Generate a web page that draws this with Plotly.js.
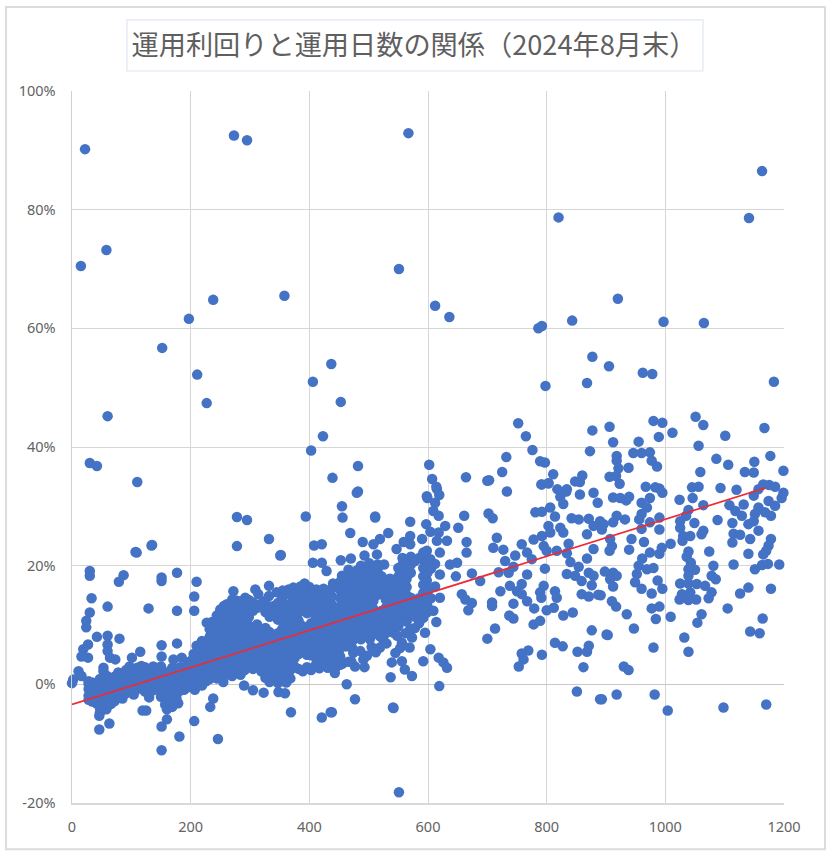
<!DOCTYPE html>
<html><head><meta charset="utf-8">
<script src="https://cdn.plot.ly/plotly-3.0.1.min.js"></script>
<style>html,body{margin:0;padding:0;background:#fff}#c{width:830px;height:857px}</style>
</head><body><div id="c"></div>
<script>
const chartTitle = "運用利回りと運用日数の関係（2024年8月末）";
const xTicks = [0,200,400,600,800,1000,1200];
const yTicks = [-20,0,20,40,60,80,100];
const yTickLabels = ["-20%","0%","20%","40%","60%","80%","100%"];
const trendDays = [0,1169];
const trendYield = [-3.4,33.1];

const outliers = [[22,90.2],[15,70.5],[58,73.2],[60,45.2],[30,37.3],[42,36.8],[110,34.1],[107,22.3],[135,23.5],[152,56.7],[197,61.6],[211,52.2],[227,47.4],[238,64.8],[273,92.5],[295,91.7],[358,65.5],[567,92.9],[551,70],[612,63.8],[636,61.9],[406,51],[437,54],[453,47.6],[423,41.8],[403,39.4],[482,36.8],[439,34.8],[820,78.7],[786,60],[792,60.4],[843,61.3],[798,50.3],[868,50.8],[877,55.2],[905,53.6],[920,65],[997,61.1],[1065,60.9],[1163,86.5],[1141,78.6],[1183,51],[962,52.5],[978,52.3],[551,-18.2],[541,-3.9],[278,28.2],[295,27.7],[278,23.3],[332,24.5],[352,21.8],[394,28.3],[408,23.4],[421,23.6],[482,32.5],[455,30],[511,28.3],[602,37],[607,34.6],[598,31.7],[615,32.9],[664,34.9],[703,34.4],[725,35.8],[732,38.3],[752,44],[765,41.8],[776,39.5],[789,37.6],[797,37.4],[811,35.4],[803,33.9],[791,33.7],[818,32.9],[873,39.3],[877,42.8],[860,35.2],[848,34.2],[833,32.5]];

const rightCloud = [[906,43.4],[912,40.8],[980,44.4],[995,44.1],[989,41.7],[1012,42.4],[955,40.9],[1051,45.1],[1064,43.7],[1056,40.2],[1101,41.9],[1167,43.2],[1177,38.5],[1150,37.5],[1086,38],[1106,37],[1059,35.8],[1134,35.8],[1149,35.7],[1199,36],[946,39],[960,39],[974,39.1],[977,37.7],[986,36.7],[918,38.5],[918,37.7],[921,36.4],[938,36.5],[906,35],[917,35.1],[923,33.8],[912,31.5],[924,31.4],[934,31],[939,31.6],[967,33.3],[983,33.2],[990,33],[995,32.3],[974,31.4],[960,30.6],[969,29.8],[960,28.7],[956,27.8],[990,28.1],[974,27.3],[990,26.1],[960,26.2],[1024,31.1],[1046,31.4],[1045,33.2],[1056,33.3],[1064,30.2],[1039,29.4],[1035,28.4],[1025,27.5],[1025,26.4],[1049,27.2],[1088,27.7],[1093,33.1],[1120,32.8],[1149,31.8],[1157,32.9],[1165,33.7],[1175,33.6],[1185,33.3],[1199,32.3],[1196,31.4],[1174,30.9],[1185,30.1],[1108,30.2],[1132,30.3],[1118,29.2],[1129,28.4],[1157,29.8],[1168,29],[1178,28.4],[1151,28.7],[1149,27.5],[1140,27],[1157,25.9],[1113,27.2],[1115,25.4],[1126,25.2],[1113,23.9],[1143,24.5],[1178,24.5],[1174,23.4],[1170,22.5],[1165,21.9],[1140,22],[1074,22.4],[1064,25.9],[1061,25.3],[1042,25],[1030,25],[1029,24.2],[1009,23.7],[994,23],[990,22],[974,22.2],[961,21.2],[1039,22.4],[1036,21.5],[1043,20.5],[1050,19.3],[1039,19.4],[1039,18.3],[1025,17],[1039,17],[1053,16.9],[1067,16.6],[1078,15.5],[1073,14.5],[1042,15.5],[1028,15.2],[1024,14.3],[1039,14.2],[1052,14.3],[1081,20],[1078,18.3],[1085,17.7],[1115,20.2],[1151,19.4],[1163,20.1],[1173,20.3],[1192,20.2],[1140,16.3],[1126,15.3],[1178,16.1],[1105,12.8],[1164,11.1],[1143,8.9],[1159,8.6],[1061,11.8],[1054,10.4],[1032,7.9],[1039,5.5],[1009,11.4],[984,11],[977,12.8],[990,13.1],[977,15.3],[995,16.1],[987,17.5],[949,17.2],[960,16.1],[955,20],[952,18.6],[969,19.4],[980,19.6],[910,14],[917,13.1],[935,11.8],[947,9.4],[903,8.3],[980,6.2],[930,3],[938,2.4],[893,-2.5],[918,-1.7],[982,-1.7],[1004,-4.4],[1098,-3.9],[1170,-3.4],[898,19],[912,18.8],[918,18.3],[907,17.7],[912,16.5],[891,15],[943,24.5],[939,22.7],[964,24],[906,22.5],[910,23.3],[907,24.5],[932,27.8],[918,28.4],[912,27.3],[896,27],[893,26.1]];

const midCloud = [[614,33.3],[619,31.9],[599,31.4],[612,30.6],[609,29.2],[618,28.4],[629,26.7],[597,27],[604,25.7],[618,25.6],[651,26.4],[661,28.4],[702,28.8],[709,28],[733,32.5],[700,34.3],[792,33.7],[803,33.9],[834,32.9],[856,34.1],[856,32],[879,32.3],[886,30.6],[823,31.6],[828,30.4],[781,29],[792,29.1],[806,29.8],[814,28.3],[842,28],[854,27.8],[871,27.9],[890,27.5],[879,26.7],[803,26.7],[823,26.4],[828,25.6],[806,25.6],[792,25],[778,24.4],[837,23.7],[879,22.8],[868,25.3],[665,24],[665,22.2],[716,24.7],[710,23],[727,22.7],[747,21.7],[758,23.6],[767,22.2],[775,21.1],[795,23.3],[817,22.5],[800,22.5],[834,22.1],[868,21.2],[797,19.5],[730,20.8],[744,19.8],[719,18.9],[736,18.8],[767,18.5],[840,20.6],[854,19.8],[834,18.6],[848,18.3],[871,18.8],[879,18.3],[859,17.4],[876,16.7],[649,20.5],[637,20.2],[674,18.7],[647,18.2],[688,17.4],[722,15.7],[738,16.6],[758,16.9],[750,15.7],[758,15.2],[767,14],[779,12.8],[795,16.6],[789,15.5],[791,14.6],[814,15.7],[817,14.6],[812,12.9],[800,12.5],[828,11.6],[844,12.1],[859,15.2],[871,14.8],[887,15.1],[708,13.8],[708,13.2],[744,13.6],[657,15.2],[663,14.3],[674,13.7],[668,12.5],[737,11.6],[744,11.1],[713,9.4],[700,7.7],[778,10.1],[789,10.7],[876,9.1],[901,8.4],[814,7],[827,6.4],[871,6.5],[852,5.5],[868,5.5],[862,2.9],[792,5],[769,5.7],[758,5.2],[761,4.2],[753,3],[851,-1.2],[890,-2.5],[480,32.3],[456,28.1],[511,28.1],[570,27.4],[469,25.5],[490,24],[533,25.5],[519,24.5],[508,23.6],[590,24.5],[570,25],[559,24],[547,22.8],[570,23.6],[453,20.9],[470,21.2],[493,21.7],[514,21.9],[466,19.3],[526,20.2],[598,22.5],[620,22.2],[632,24.2],[615,24.2],[604,21.1],[595,8.7],[570,9.3],[573,7.9],[556,7],[569,6.2],[545,5.3],[604,5.9],[539,3.7],[556,3.9],[561,2.5],[573,1.4],[537,1.2],[592,3.9],[618,4.5],[626,3.7],[632,2.8],[619,-0.3],[463,0],[477,-2.5],[542,-4],[438,-4.7],[497,4.8],[474,5.3],[477,3],[493,2.9],[519,6.2],[519,8.1],[502,7.6],[542,8.7],[446,3.1],[614,10.5],[598,12.1],[609,12.4],[620,14.6],[612,16.5],[620,18.5],[605,19.5],[612,20.3],[598,17.5],[605,14.5],[600,15.8],[443,1.9],[450,5],[456,3.5],[463,6.4],[471,3.8],[486,5.6],[491,4.2],[505,6.3],[512,5.4],[524,7.6],[530,6.9],[548,8.2],[553,6.1],[562,8.6],[578,9.5],[585,10.3],[365,16],[345,15.5],[355,15.8],[385,16.5],[400,16.4],[412,16],[440,17],[455,18.3]];

const leftScatter = [[30,19.1],[30,18.3],[87,18.4],[79,17.3],[109,22.2],[134,23.4],[151,18],[151,17.4],[177,18.8],[210,17.3],[33,14.5],[60,13.1],[30,12.1],[129,12.8],[177,12.4],[206,14.8],[206,12.4],[24,10.7],[24,9.6],[42,8],[60,8.2],[80,7.7],[27,6.7],[19,5.9],[16,4.7],[27,4.5],[60,6.7],[60,5.6],[73,4.2],[64,4.5],[151,6.6],[177,6.9],[115,5.5],[151,4.7],[101,4.5],[171,4.2],[185,4.5],[11,2.2],[2,0.8],[0,0.2],[16,1.4],[53,2.8],[53,2.2],[46,-7.6],[63,-6.6],[46,-5.3],[47,-4.8],[58,-4.2],[125,-4.4],[119,-4.4],[151,-7.1],[160,-5.9],[181,-8.8],[151,-11.1],[206,-6.2],[246,-9.2],[233,-3.8],[238,-2.4],[179,-3.2],[160,-4.2],[160,-3.1],[369,-4.7],[421,-5.6],[436,-4.7],[255,0.4],[290,-0.2],[305,-1],[323,-1.4],[348,-1.3],[359,-1.5],[272,15.7],[309,16],[314,15.2],[332,16.6],[332,14.9],[373,16.3],[392,17],[379,14.9],[292,14.6],[278,14.1],[261,13.5],[250,12.4],[320,13.5],[309,12.9],[345,12.1],[236,10.5],[250,9.8],[227,10.4],[219,7.3],[210,6.5],[205,5.1],[196,3.7],[406,20.5],[421,20.5],[429,19.1],[351,21.7]];

const denseColumns = [
[28,[0.5,-0.8,-1.9,-2.6,0.1]],[34,[-0.4,-1.5,-2.9,0.3]],[41,[-1.1,-2.3,-3.2]],[47,[-0.2,0.9,-2.7,-3.9]],[53,[-1.6,-0.5,0.6]],
[59,[-3.0,-1.2,0.2,1.4]],[66,[-2.1,-0.7,0.7,-3.3]],[72,[-1.4,0.1,1.3,-2.8]],[78,[-0.6,0.8,2.0,-1.9]],[85,[-2.4,-1.0,0.4,1.6]],
[91,[-0.2,1.1,2.4,-1.5]],[97,[0.5,1.8,-0.9,3.0]],[104,[-1.7,-0.3,1.0,2.5]],[110,[0.2,1.5,2.8,-0.8]],[117,[-0.4,0.9,2.1,3.1]],
[123,[-1.2,0.4,1.7,2.9]],[130,[0.0,1.2,2.6,-2.2]],[137,[1.6,0.6,3.0,-1.0]],[144,[-0.3,1.1,2.4]],[150,[-2.1,-0.9,0.4,1.8,3.0]],
[157,[-1.6,-0.2,1.2,-3.4]],[163,[-2.7,-0.8,0.7,2.1]],[169,[-1.3,0.2,1.6,-3.8,2.8]],[176,[-0.5,1.0,-2.3,2.3]],[182,[0.3,1.5,-1.1,2.9]],
[189,[-0.4,1.0,2.4,-0.9]],[195,[0.6,1.9,3.1,-0.5]],[201,[-0.3,1.2,2.6,4.0]],[207,[0.4,1.8,3.3,4.6,-0.9]],[213,[0.1,1.4,2.8,4.1,5.4]],
[219,[1.0,2.3,3.6,5.0,6.2,-0.2]],[226,[0.5,1.9,3.2,4.5,5.9,7.1]],[232,[0.9,2.4,3.8,5.2,6.5,8.0,9.3]],[238,[1.5,2.9,4.3,5.7,7.2,8.6,10.0]],
[244,[1.0,2.2,3.6,5.0,6.4,7.8,9.2,10.6,11.6]],[250,[1.7,3.1,4.5,5.9,7.3,8.7,10.1,11.3,12.6]],[256,[1.2,2.6,4.0,5.4,6.8,8.2,9.6,11.0,12.2,13.2]],
[263,[1.9,3.3,4.7,6.1,7.5,8.9,10.3,11.7,13.0]],[270,[1.4,2.8,4.2,5.6,7.0,8.4,9.8,11.2,12.6,14.3]],[277,[2.1,3.5,4.9,6.3,7.7,9.1,10.5,11.9,13.3]],
[284,[1.6,3.0,4.4,5.8,7.2,8.6,10.0,11.4,12.8,14.0]],[291,[2.4,3.8,5.2,6.6,8.0,9.4,10.8,12.2,13.6]],[298,[2.9,4.3,5.7,7.1,8.5,9.9,11.3,12.7,14.2]],
[305,[2.6,4.0,5.4,6.8,8.2,9.6,12.4,13.8]],[312,[3.1,4.5,5.9,7.3,8.7,10.1,12.9]],[319,[2.2,3.6,5.0,6.4,7.8,9.2,13.6]],
[326,[1.1,2.5,3.9,5.3,6.7,8.1,9.5,12.2,14.1]],[333,[0.4,1.8,3.2,4.6,6.0,7.4,8.8,11.4,12.8]],[340,[1.2,2.6,4.0,5.4,6.8,8.2,11.6,13.2]],
[347,[0.2,1.6,3.0,4.4,5.8,7.2,8.6,10.9,12.3,13.7]],[354,[0.9,2.3,3.7,5.1,6.5,7.9,9.3,10.7,12.1,14.4]],[361,[0.3,1.7,3.1,4.5,5.9,7.3,8.7,10.1,11.5,13.2]],
[368,[1.0,2.4,3.8,5.2,6.6,8.0,9.4,10.8,12.2,13.6,15.1]],[375,[3.0,4.4,5.8,7.2,8.6,10.0,11.4,12.8,14.2]],[382,[2.6,5.1,6.5,7.9,9.3,10.7,12.1,13.5,15.6]],
[389,[2.2,5.6,7.0,8.4,9.8,12.4,13.8,15.2]],[396,[2.9,5.0,6.4,7.8,9.2,12.0,13.4,14.8]],[403,[2.4,4.9,6.1,7.5,8.9,10.3,12.6,14.0,15.4]],
[410,[3.2,4.6,6.0,7.4,8.8,10.2,11.6,13.0,14.4]],[417,[2.7,4.1,5.5,6.9,8.3,9.7,11.1,12.5,13.9,15.3]],[424,[3.4,4.8,6.2,7.6,9.0,10.4,11.8,13.2,14.6,16.1]],
[431,[2.8,4.2,5.6,7.0,8.4,9.8,11.2,12.6,14.0,15.4]],[438,[3.6,5.0,6.4,7.8,9.2,10.6,12.0,13.4,14.8,16.2]],[445,[2.9,4.3,5.7,7.1,8.5,9.9,11.3,12.7,16.7]],
[452,[3.3,4.7,6.1,7.5,8.9,10.3,11.7,13.1,14.5,15.9,17.3]],[459,[6.4,7.8,9.2,10.6,12.0,13.4,14.8,16.2,17.8]],[466,[3.8,6.6,8.0,9.4,10.8,12.2,13.6,15.0,16.4]],
[473,[6.0,7.4,8.8,10.2,11.6,13.0,14.4,15.8,17.2,18.4]],[480,[8.1,9.5,10.9,12.3,13.7,15.1,16.5,17.9,19.2]],[487,[7.6,9.0,10.4,11.8,13.2,14.6,16.0,17.4,18.8,20.0]],
[494,[8.4,9.8,11.2,12.6,14.0,15.4,16.8,18.2,19.6]],[501,[9.2,10.6,12.0,13.4,14.8,16.2,17.6,19.0,20.4]],[508,[8.5,9.9,11.3,12.7,14.1,15.5,16.9,18.3,19.7]],
[515,[9.1,10.5,11.9,15.1,16.5,17.9,19.3,20.2]],[522,[9.6,11.0,12.4,15.6,17.0,18.2]],[529,[8.6,10.1,11.5,12.9,14.3,15.7,17.1]],
[536,[9.4,10.8,12.2,13.6,15.0,16.4,17.8]],[543,[10.0,11.4,12.8,14.2,15.6,17.0]],[550,[9.8,11.2,12.6,14.0,15.4,16.8,18.2,19.6]],
[557,[11.7,13.1,14.5,15.9,17.3,18.7,20.2,21.3]],[564,[10.6,12.2,13.6,15.0,16.4,17.8,19.2,20.6]],[571,[11.8,13.2,14.6,18.8,20.2,21.5]],
[578,[11.4,12.8,14.2,20.8]],[585,[12.1,13.5,14.5,21.3]],[592,[11.2,12.6,14.0,15.4,16.8,18.2,19.6,21.0,22.2]],[599,[13.2,14.6,16.2,18.8,20.1]]
];

const allPairs = outliers.concat(rightCloud, midCloud, leftScatter);
denseColumns.forEach(function(col){ col[1].forEach(function(v){ allPairs.push([col[0], v]); }); });
const days = allPairs.map(function(p){ return p[0]; });
const yields = allPairs.map(function(p){ return p[1]; });

const tickFont = {family:'"Noto Sans", sans-serif', size:14.5, color:'#636363'};
Plotly.newPlot('c', [
 {type:'scatter', mode:'markers', x:days, y:yields, cliponaxis:false,
  marker:{size:10.5, color:'#4472c4', line:{width:0}}, hoverinfo:'skip'},
 {type:'scatter', mode:'lines', x:trendDays, y:trendYield,
  line:{color:'#ee2a35', width:1.7}, hoverinfo:'skip'}
], {
 width:830, height:857, showlegend:false,
 paper_bgcolor:'#ffffff', plot_bgcolor:'#ffffff',
 margin:{l:72, r:46, t:91, b:54, pad:0},
 title:{text:chartTitle, x:0.4987, xanchor:'center', y:0.9475, yanchor:'middle',
        font:{family:'"Noto Sans CJK JP", sans-serif', size:27.2, color:'#5f5f5f'}},
 xaxis:{range:[0,1200], tickmode:'array', tickvals:xTicks, ticktext:xTicks.map(String),
        tickfont:tickFont, ticks:'', ticklen:0, ticklabelstandoff:10, showgrid:true, gridcolor:'#d6d6d6', gridwidth:1,
        zeroline:false, showline:true, linecolor:'#d9d9d9', linewidth:1.5, mirror:false, tickangle:0, automargin:false},
 yaxis:{range:[-20,100], tickmode:'array', tickvals:yTicks, ticktext:yTickLabels,
        tickfont:tickFont, ticks:'', ticklabelstandoff:12, showgrid:true, gridcolor:'#d6d6d6', gridwidth:1,
        zeroline:true, zerolinecolor:'#c8c8c8', zerolinewidth:1.6, showline:true, linecolor:'#d0d0d0', linewidth:1.5, automargin:false},
 shapes:[
  {type:'rect', xref:'paper', yref:'paper', layer:'below',
   x0:-0.0927, x1:1.0576, y0:-0.0650, y1:1.1180, line:{color:'#dcdcdc', width:2}, fillcolor:'rgba(0,0,0,0)'},
  {type:'rect', xref:'paper', yref:'paper', layer:'below',
   x0:0.0772, x1:0.8862, y0:1.0281, y1:1.1000, line:{color:'#dfe7f3', width:1.2}, fillcolor:'rgba(0,0,0,0)'}
 ]
}, {displayModeBar:false, staticPlot:true});
</script></body></html>
